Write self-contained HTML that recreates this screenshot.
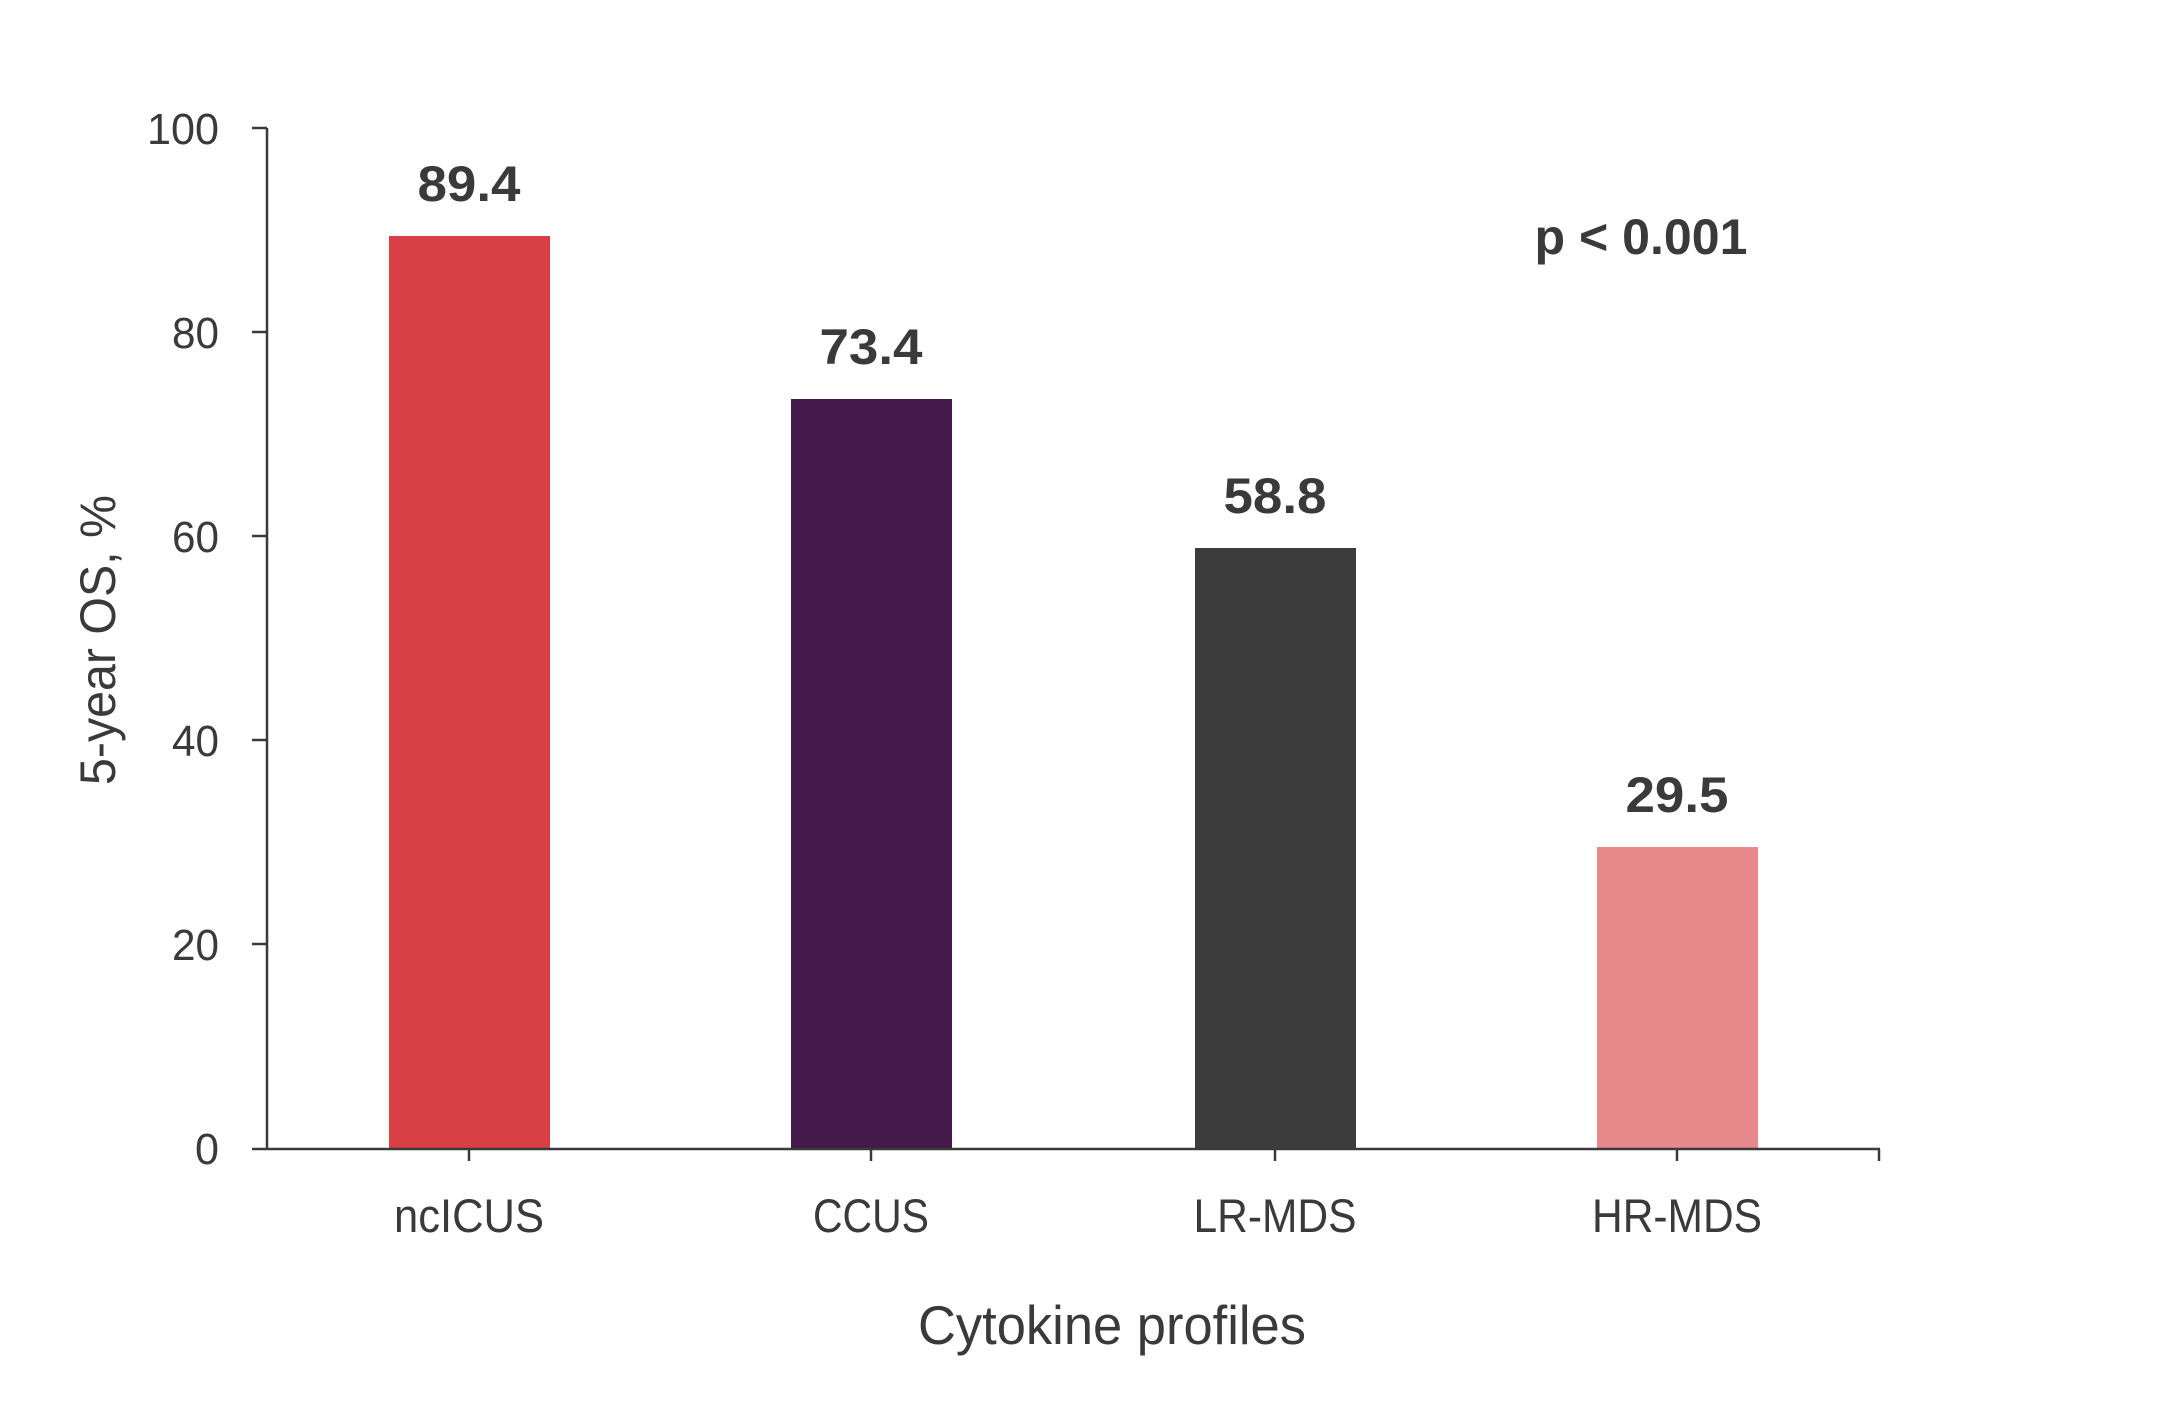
<!DOCTYPE html>
<html><head><style>html,body{margin:0;padding:0;background:#fff}svg{display:block}</style></head>
<body>
<svg width="2182" height="1413" viewBox="0 0 2182 1413" xmlns="http://www.w3.org/2000/svg" font-family="Liberation Sans, sans-serif" fill="#3a3a3a">
<rect width="2182" height="1413" fill="#fff"/>
<rect x="389" y="236" width="161" height="912" fill="#d94046"/>
<rect x="791" y="399" width="161" height="749" fill="#44194b"/>
<rect x="1195" y="548" width="161" height="600" fill="#3c3c3c"/>
<rect x="1597" y="847" width="161" height="301" fill="#e88a8c"/>
<g stroke="#3a3a3a" stroke-width="2.5" fill="none">
<line x1="267" y1="128" x2="267" y2="1149"/>
<line x1="252" y1="1149" x2="1880" y2="1149"/>
<line x1="252" y1="128" x2="267" y2="128"/>
<line x1="252" y1="332" x2="267" y2="332"/>
<line x1="252" y1="536" x2="267" y2="536"/>
<line x1="252" y1="740" x2="267" y2="740"/>
<line x1="252" y1="944" x2="267" y2="944"/>
<line x1="469" y1="1149" x2="469" y2="1161"/>
<line x1="871" y1="1149" x2="871" y2="1161"/>
<line x1="1275" y1="1149" x2="1275" y2="1161"/>
<line x1="1677" y1="1149" x2="1677" y2="1161"/>
<line x1="1879" y1="1149" x2="1879" y2="1161"/>
</g>
<g font-size="44" text-anchor="end">
<text x="219" y="144" textLength="72" lengthAdjust="spacingAndGlyphs">100</text>
<text x="219" y="348" textLength="47" lengthAdjust="spacingAndGlyphs">80</text>
<text x="219" y="552" textLength="47" lengthAdjust="spacingAndGlyphs">60</text>
<text x="219" y="756" textLength="47" lengthAdjust="spacingAndGlyphs">40</text>
<text x="219" y="960" textLength="47" lengthAdjust="spacingAndGlyphs">20</text>
<text x="219" y="1164" textLength="24" lengthAdjust="spacingAndGlyphs">0</text>
</g>
<g font-size="50" font-weight="bold" text-anchor="middle">
<text x="469" y="201" textLength="103" lengthAdjust="spacingAndGlyphs">89.4</text>
<text x="871" y="364" textLength="103" lengthAdjust="spacingAndGlyphs">73.4</text>
<text x="1275" y="513" textLength="103" lengthAdjust="spacingAndGlyphs">58.8</text>
<text x="1677" y="812" textLength="103" lengthAdjust="spacingAndGlyphs">29.5</text>
<text x="1641" y="254" textLength="213" lengthAdjust="spacingAndGlyphs">p &lt; 0.001</text>
</g>
<g font-size="47" text-anchor="middle">
<text x="469" y="1232" textLength="150" lengthAdjust="spacingAndGlyphs">ncICUS</text>
<text x="871" y="1232" textLength="116" lengthAdjust="spacingAndGlyphs">CCUS</text>
<text x="1275" y="1232" textLength="163" lengthAdjust="spacingAndGlyphs">LR-MDS</text>
<text x="1677" y="1232" textLength="170" lengthAdjust="spacingAndGlyphs">HR-MDS</text>
</g>
<text x="1112" y="1344" font-size="55" text-anchor="middle" textLength="388" lengthAdjust="spacingAndGlyphs">Cytokine profiles</text>
<text transform="translate(115,640) rotate(-90)" font-size="50" text-anchor="middle" textLength="290" lengthAdjust="spacingAndGlyphs">5-year OS, %</text>
</svg>
</body></html>
